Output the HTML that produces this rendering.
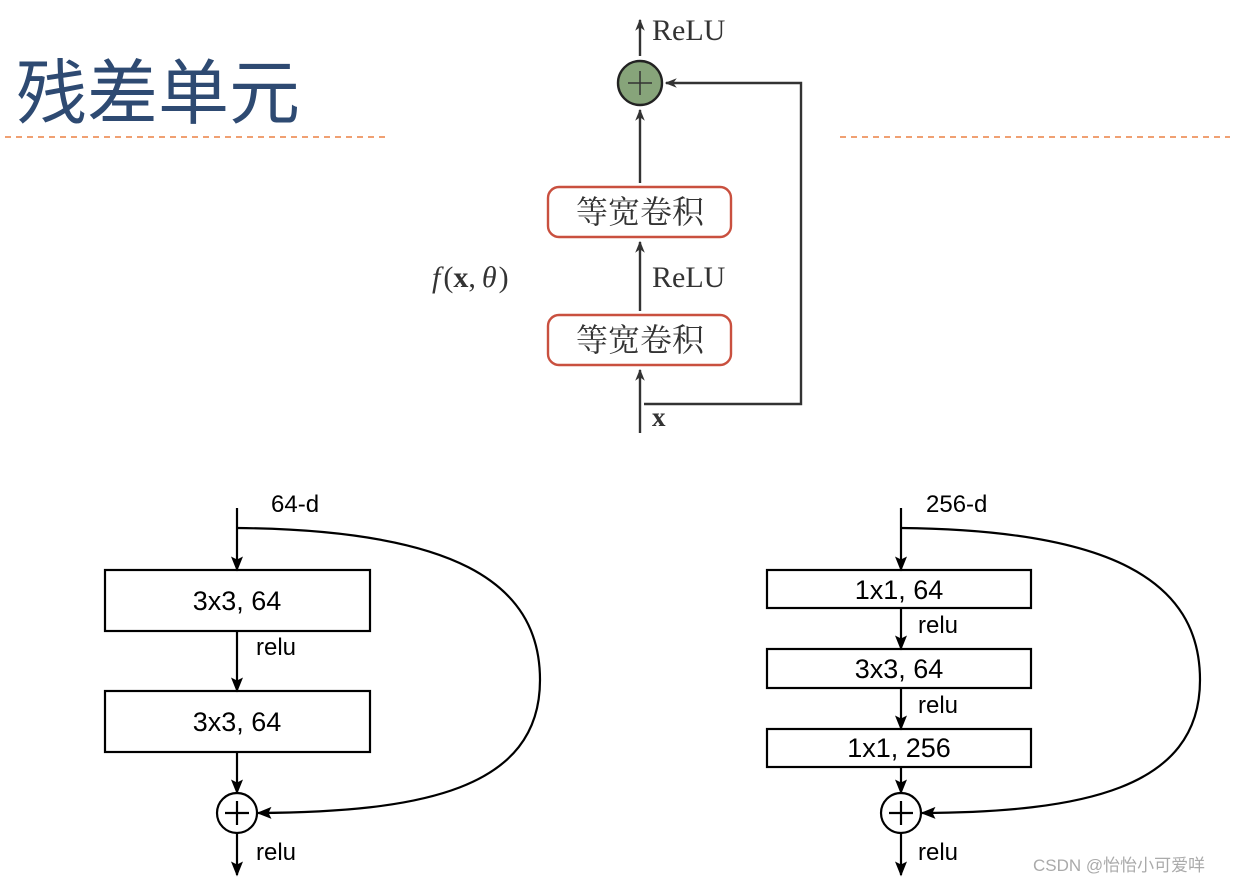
<!DOCTYPE html>
<html><head><meta charset="utf-8"><style>
body{margin:0;background:#fff;width:1240px;height:885px;overflow:hidden}
svg{display:block}
.s{font-family:"Liberation Serif","Noto Serif CJK SC",serif;fill:#333}
.c{font-family:"Liberation Sans","Noto Sans CJK SC",sans-serif;fill:#000}
</style></head><body>
<svg width="1240" height="885" viewBox="0 0 1240 885" xmlns="http://www.w3.org/2000/svg">
<defs>
<marker id="a" viewBox="0 0 10 10" refX="9" refY="5" markerWidth="12" markerHeight="12" orient="auto-start-reverse" markerUnits="userSpaceOnUse"><path d="M0,1 L10,5 L0,9 L3,5 z" fill="#333"/></marker>
<marker id="b" viewBox="0 0 10 10" refX="9" refY="5" markerWidth="15" markerHeight="15" orient="auto" markerUnits="userSpaceOnUse"><path d="M0,1 L10,5 L0,9 L2,5 z" fill="#000"/></marker>
</defs>
<text x="16" y="118" font-size="71" font-family="'Noto Sans CJK SC',sans-serif" fill="#2e4a72">残差单元</text>
<line x1="5" y1="137" x2="390" y2="137" stroke="#e8671e" stroke-width="1.3" stroke-dasharray="6,5"/>
<line x1="840" y1="137" x2="1230" y2="137" stroke="#e8671e" stroke-width="1.3" stroke-dasharray="6,5"/>
<!-- top diagram -->
<g stroke="#333" stroke-width="2.4" fill="none">
<line x1="640" y1="56" x2="640" y2="20" marker-end="url(#a)"/>
<line x1="640" y1="183" x2="640" y2="110" marker-end="url(#a)"/>
<line x1="640" y1="311" x2="640" y2="242" marker-end="url(#a)"/>
<line x1="640" y1="433" x2="640" y2="370" marker-end="url(#a)"/>
<polyline points="644,404 801,404 801,83 666,83" marker-end="url(#a)"/>
</g>
<circle cx="640" cy="83" r="22" fill="#87a47a" stroke="#222" stroke-width="2.4"/>
<path d="M628,83 H652 M640,71 V95" stroke="#333" stroke-width="1.5"/>
<rect x="548" y="187" width="183" height="50" rx="11" fill="#fff" stroke="#c9503f" stroke-width="2.4"/>
<rect x="548" y="315" width="183" height="50" rx="11" fill="#fff" stroke="#c9503f" stroke-width="2.4"/>
<text x="640" y="223" text-anchor="middle" class="s" font-size="32">等宽卷积</text>
<text x="640" y="351" text-anchor="middle" class="s" font-size="32">等宽卷积</text>
<text x="652" y="40" class="s" font-size="30">ReLU</text>
<text x="652" y="287" class="s" font-size="30">ReLU</text>
<text x="432" y="287" class="s" font-size="30" font-style="italic">f<tspan font-style="normal" dx="3">(</tspan><tspan font-style="normal" font-weight="bold">x</tspan><tspan font-style="normal">,</tspan><tspan dx="6">θ</tspan><tspan font-style="normal" dx="2">)</tspan></text>
<text x="652" y="426" class="s" font-size="27" font-weight="bold">x</text>
<!-- left bottom -->
<g stroke="#000" stroke-width="2.2" fill="none">
<line x1="237" y1="508" x2="237" y2="570" marker-end="url(#b)"/>
<line x1="237" y1="631" x2="237" y2="691" marker-end="url(#b)"/>
<line x1="237" y1="752" x2="237" y2="793" marker-end="url(#b)"/>
<line x1="237" y1="833" x2="237" y2="875" marker-end="url(#b)"/>
<path d="M237,528 C450,530 540,580 540,680 C540,790 420,812 258,813" marker-end="url(#b)"/>
<rect x="105" y="570" width="265" height="61"/>
<rect x="105" y="691" width="265" height="61"/>
<circle cx="237" cy="813" r="20"/>
<path d="M225,813 H249 M237,801 V825"/>
</g>
<text x="271" y="512" class="c" font-size="24">64-d</text>
<text x="237" y="610" text-anchor="middle" class="c" font-size="27">3x3, 64</text>
<text x="237" y="731" text-anchor="middle" class="c" font-size="27">3x3, 64</text>
<text x="256" y="655" class="c" font-size="24">relu</text>
<text x="256" y="860" class="c" font-size="24">relu</text>
<!-- right bottom -->
<g stroke="#000" stroke-width="2.2" fill="none">
<line x1="901" y1="508" x2="901" y2="570" marker-end="url(#b)"/>
<line x1="901" y1="608" x2="901" y2="649" marker-end="url(#b)"/>
<line x1="901" y1="688" x2="901" y2="729" marker-end="url(#b)"/>
<line x1="901" y1="767" x2="901" y2="793" marker-end="url(#b)"/>
<line x1="901" y1="833" x2="901" y2="875" marker-end="url(#b)"/>
<path d="M901,528 C1110,530 1200,580 1200,680 C1200,790 1080,812 922,813" marker-end="url(#b)"/>
<rect x="767" y="570" width="264" height="38"/>
<rect x="767" y="649" width="264" height="39"/>
<rect x="767" y="729" width="264" height="38"/>
<circle cx="901" cy="813" r="20"/>
<path d="M889,813 H913 M901,801 V825"/>
</g>
<text x="926" y="512" class="c" font-size="24">256-d</text>
<text x="899" y="599" text-anchor="middle" class="c" font-size="27">1x1, 64</text>
<text x="899" y="678" text-anchor="middle" class="c" font-size="27">3x3, 64</text>
<text x="899" y="757" text-anchor="middle" class="c" font-size="27">1x1, 256</text>
<text x="918" y="633" class="c" font-size="24">relu</text>
<text x="918" y="713" class="c" font-size="24">relu</text>
<text x="918" y="860" class="c" font-size="24">relu</text>
<text x="1033" y="871" font-family="'Liberation Sans','Noto Sans CJK SC',sans-serif" font-size="17" fill="#aaa">CSDN @怡怡小可爱咩</text>
</svg>
</body></html>
